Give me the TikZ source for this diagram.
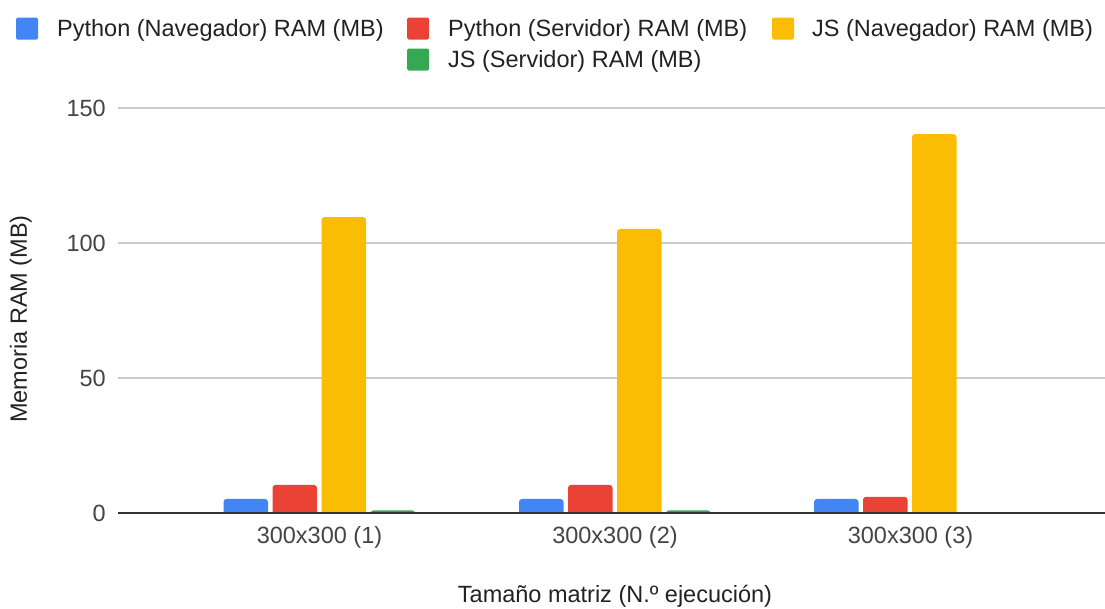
\documentclass[tikz,border=0pt]{standalone}
\usepackage{fontspec}
\setmainfont{Liberation Sans}
\definecolor{pyblue}{HTML}{4285F4}
\definecolor{pyred}{HTML}{EA4335}
\definecolor{jsyellow}{HTML}{FBBC04}
\definecolor{jsgreen}{HTML}{34A853}
\definecolor{gridgray}{HTML}{CCCCCC}
\definecolor{axisgray}{HTML}{333333}
\definecolor{labelgray}{HTML}{444444}
\definecolor{legendgray}{HTML}{222222}
\newcommand{\chartfont}{\fontsize{23.5}{28}\selectfont}
\tikzset{
    gridline/.style={draw=gridgray, line width=1.3},
    baseline/.style={draw=axisgray, line width=1.6},
    ticklabel/.style={anchor=east, inner sep=0, text=labelgray, font=\chartfont},
    grouplabel/.style={anchor=base, inner sep=0, text=labelgray, font=\chartfont},
    axistitle/.style={anchor=base, inner sep=0, text=legendgray, font=\chartfont},
    legendkey/.style={minimum size=22, inner sep=0, rounded corners=1.5},
    legendtext/.style={anchor=base west, inner sep=0, text=legendgray, font=\chartfont},
}

\begin{document}
\begin{tikzpicture}[x=1pt, y=-1pt]
    \useasboundingbox (0,0) rectangle (1105,608);
    % grid
    \foreach \v in {50,100,150}
        \draw[gridline] (118,{513-2.7*\v}) -- (1105,{513-2.7*\v});
    \node[ticklabel] (t0) at (106,513) {0};
    \node[ticklabel] (t50) at (106,378) {50};
    \node[ticklabel] (t100) at (106,243) {100};
    \node[ticklabel] (t150) at (106,108) {150};
    % bars
    \begin{scope}
        \clip (0,0) rectangle (1105,513);
        \foreach \x/\v/\c in {223.5/5.2/pyblue, 272.5/10.4/pyred, 321.5/109.6/jsyellow, 370.5/1.0/jsgreen,
                              519/5.2/pyblue, 568/10.4/pyred, 617/105.2/jsyellow, 666/1.0/jsgreen,
                              814/5.2/pyblue, 863/6.0/pyred, 912/140.3/jsyellow}
            \fill[\c, rounded corners=3] (\x,{513-2.7*\v}) rectangle ({\x+44.5},520);
    \end{scope}
    \draw[baseline] (118,513) -- (1105,513);
    \node[grouplabel] (g1) at (319.5,543) {300x300 (1)};
    \node[grouplabel] (g2) at (615,543) {300x300 (2)};
    \node[grouplabel] (g3) at (910.5,543) {300x300 (3)};
    % titles
    \node[axistitle] (xtitle) at (615,602) {Tamaño matriz (N.º ejecución)};
    \node[axistitle, rotate=90] (ytitle) at (27,319) {Memoria RAM (MB)};
    % legend
    \node[legendkey, fill=pyblue] (k1) at (27,28.5) {};
    \node[legendtext] (l1) at (57,36) {Python (Navegador) RAM (MB)};
    \node[legendkey, fill=pyred] (k2) at (418,28.5) {};
    \node[legendtext] (l2) at (448,36) {Python (Servidor) RAM (MB)};
    \node[legendkey, fill=jsyellow] (k3) at (783,28.5) {};
    \node[legendtext] (l3) at (812,36) {JS (Navegador) RAM (MB)};
    \node[legendkey, fill=jsgreen] (k4) at (418,59.5) {};
    \node[legendtext] (l4) at (448,67) {JS (Servidor) RAM (MB)};
\end{tikzpicture}
\end{document}
